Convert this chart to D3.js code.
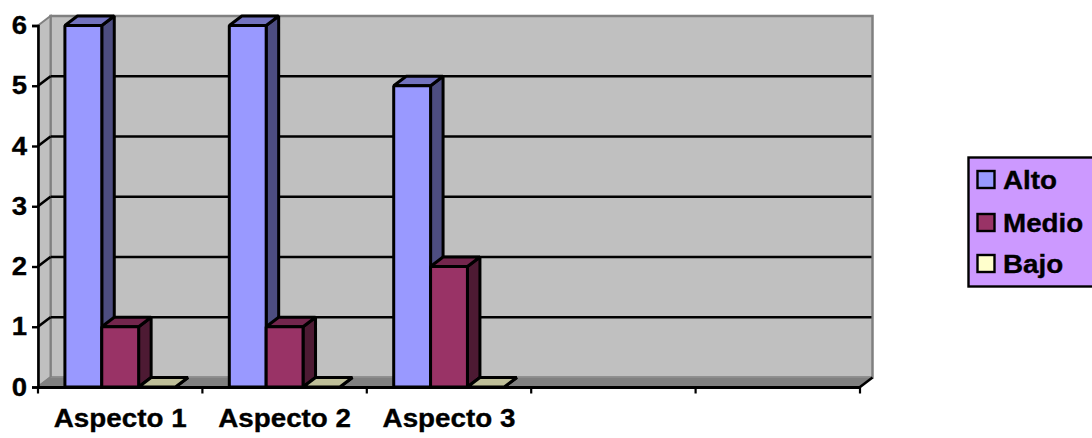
<!DOCTYPE html>
<html>
<head>
<meta charset="utf-8">
<script src="https://cdn.jsdelivr.net/npm/d3@7/dist/d3.min.js"></script>
<style>
  html, body { margin: 0; padding: 0; background: #fff; overflow: hidden; }
  svg { display: block; }
  text { font-family: "Liberation Sans", Arial, sans-serif; font-weight: bold; fill: #000; stroke: #000; stroke-width: 0.35px; }
</style>
</head>
<body>
<svg id="chart" width="1092" height="438"></svg>
<script>
// Categories: the last two slots of the axis are left empty.
const categories = ["Aspecto 1", "Aspecto 2", "Aspecto 3", "", " "];
const seriesNames = ["Alto", "Medio", "Bajo"];
const alto = [6, 6, 5];
const medio = [1, 1, 2];
const bajo = [0, 0, 0];
const yTicks = [0, 1, 2, 3, 4, 5, 6];
const seriesValues = [alto, medio, bajo];

const frontColors = ["#9999ff", "#993366", "#ffffcc"];
const topColors = ["#7373bf", "#73264d", "#bfbf99"];
const sideColors = ["#4d4d80", "#4d1a33", "#808066"];

// Plot box and the oblique depth of the 3D walls.
const plotLeft = 38, plotRight = 860, plotTop = 25.5, plotBottom = 387;
const depthX = 12.5, depthY = -9.5;

const svg = d3.select("#chart");
const x = d3.scaleBand().domain(categories).range([plotLeft, plotRight]);
const inner = d3.scaleBand().domain(seriesNames).range([0, x.bandwidth()]).paddingOuter(0.73).paddingInner(0);
const y = d3.scaleLinear().domain([0, 6]).range([plotBottom, plotTop]);
const poly = pts => pts.map(p => p.join(",")).join(" ");

// Back wall, side wall and floor.
const walls = svg.append("g");
walls.append("polygon")
  .attr("points", poly([[plotLeft + depthX, y(6) + depthY], [plotRight + depthX, y(6) + depthY], [plotRight + depthX, y(0) + depthY], [plotLeft + depthX, y(0) + depthY]]))
  .attr("fill", "#c0c0c0").attr("stroke", "#808080").attr("stroke-width", 2.5);
walls.append("polygon")
  .attr("points", poly([[plotLeft, y(6)], [plotLeft + depthX, y(6) + depthY], [plotLeft + depthX, y(0) + depthY], [plotLeft, y(0)]]))
  .attr("fill", "#c0c0c0").attr("stroke", "#808080").attr("stroke-width", 2);
walls.append("polygon")
  .attr("points", poly([[plotLeft, y(0)], [plotLeft + depthX, y(0) + depthY], [plotRight + depthX, y(0) + depthY], [plotRight, y(0)]]))
  .attr("fill", "#808080").attr("stroke", "#8c8c8c").attr("stroke-width", 1);

// Gridlines on the back wall with their diagonals across the side wall.
const grid = svg.append("g").attr("stroke", "#000").attr("stroke-width", 2.6).attr("fill", "none");
grid.selectAll("line.back").data(yTicks.slice(1, -1)).join("line").attr("class", "back")
  .attr("x1", plotLeft + depthX).attr("x2", plotRight + depthX - 1)
  .attr("y1", d => y(d) + depthY).attr("y2", d => y(d) + depthY);
grid.selectAll("line.diag").data(yTicks.slice(1, -1)).join("line").attr("class", "diag")
  .attr("x1", plotLeft).attr("x2", plotLeft + depthX)
  .attr("y1", d => y(d)).attr("y2", d => y(d) + depthY);
grid.append("line")
  .attr("x1", plotRight).attr("y1", y(0)).attr("x2", plotRight + depthX).attr("y2", y(0) + depthY);
grid.append("line")
  .attr("x1", plotLeft).attr("y1", y(0)).attr("x2", plotLeft + depthX).attr("y2", y(0) + depthY).attr("stroke", "#808080");

// Oblique bars: side, top, then front face of each series per category.
const bars = svg.append("g").attr("stroke", "#000").attr("stroke-width", 3).attr("stroke-linejoin", "bevel");
categories.slice(0, 3).forEach((cat, c) => {
  seriesNames.forEach((name, s) => {
    const v = seriesValues[s][c];
    const x0 = x(cat) + inner(name), x1 = x0 + inner.bandwidth();
    const yv = y(v), y0 = y(0);
    bars.append("polygon").attr("fill", sideColors[s])
      .attr("points", poly([[x1, yv], [x1 + depthX, yv + depthY], [x1 + depthX, y0 + depthY], [x1, y0]]));
    bars.append("polygon").attr("fill", topColors[s])
      .attr("points", poly([[x0, yv], [x0 + depthX, yv + depthY], [x1 + depthX, yv + depthY], [x1, yv]]));
    bars.append("rect").attr("fill", frontColors[s])
      .attr("x", x0).attr("y", yv).attr("width", x1 - x0).attr("height", y0 - yv);
  });
});

// Value axis.
const yAxis = svg.append("g").attr("transform", `translate(${plotLeft},0)`)
  .call(d3.axisLeft(y).tickValues(yTicks).tickFormat(d3.format("d")).tickSize(6).tickPadding(4));
yAxis.select(".domain").attr("stroke", "#000").attr("stroke-width", 2.6);
yAxis.selectAll(".tick line").attr("stroke", "#000").attr("stroke-width", 2.4);
yAxis.selectAll(".tick text")
  .attr("font-size", 26).attr("x", 0).attr("dy", null).attr("y", 0)
  .attr("text-anchor", "end")
  .attr("transform", "translate(-11,8) scale(1.06,1)");

// Category axis: labels centred in each band, tick marks on band edges.
const xAxis = svg.append("g").attr("transform", `translate(0,${plotBottom})`)
  .call(d3.axisBottom(x).tickSize(0));
xAxis.select(".domain").attr("stroke", "#000").attr("stroke-width", 2.8);
xAxis.selectAll(".tick text")
  .attr("font-size", 26).attr("y", 0).attr("dy", null)
  .attr("text-anchor", "middle")
  .attr("transform", "translate(0,40) scale(1.07,1)");
xAxis.selectAll("line.edge")
  .data(categories.map(d => x(d)).concat([plotRight]))
  .join("line").attr("class", "edge")
  .attr("x1", d => d).attr("x2", d => d).attr("y1", 0).attr("y2", 6.5)
  .attr("stroke", "#000").attr("stroke-width", 2.2);

// Legend.
const legend = svg.append("g");
legend.append("rect").attr("x", 968.5).attr("y", 157.5).attr("width", 130).attr("height", 129)
  .attr("fill", "#cc99ff").attr("stroke", "#000").attr("stroke-width", 2.4);
const legendBaseline = [189, 232, 273];
const items = legend.selectAll("g.item").data(seriesNames).join("g").attr("class", "item");
items.append("rect")
  .attr("x", 977.5).attr("y", (d, i) => legendBaseline[i] - 18)
  .attr("width", 17).attr("height", 17)
  .attr("fill", (d, i) => frontColors[i]).attr("stroke", "#000").attr("stroke-width", 2.4);
items.append("text")
  .attr("font-size", 26)
  .attr("transform", (d, i) => `translate(1003,${legendBaseline[i]}) scale(1.07,1)`)
  .text(d => d);
</script>
</body>
</html>
